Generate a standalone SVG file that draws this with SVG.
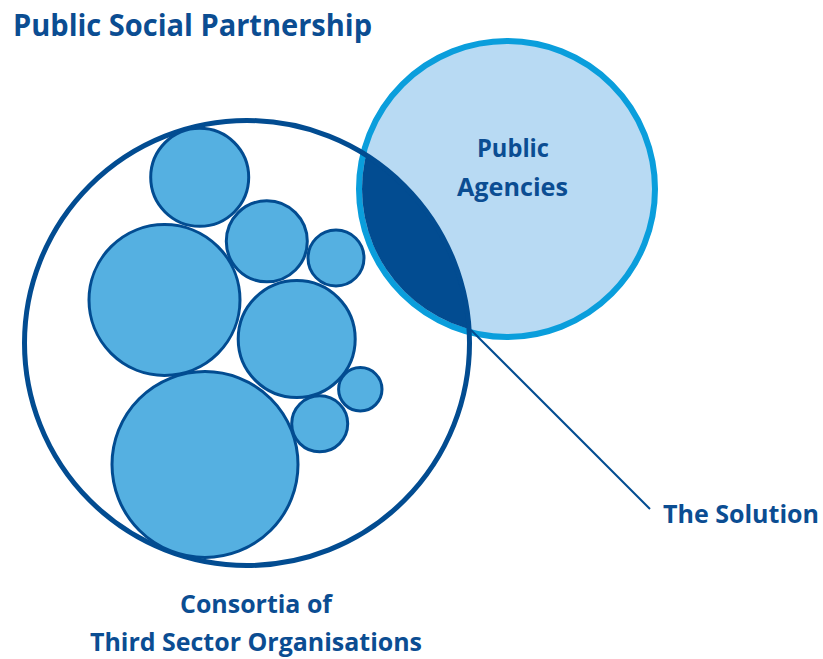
<svg xmlns="http://www.w3.org/2000/svg" width="823" height="659" viewBox="0 0 823 659">
  <style>
    .lbl { font-family: "Open Sans", "Liberation Sans", sans-serif; font-weight: 700; fill: #0b4d92; }
    .member { fill: #55b0e1; stroke: #024c91; stroke-width: 3; }
    .conn { fill: none; stroke: #024c91; stroke-width: 2; }
  </style>
  <defs>
    <clipPath id="agencyInner">
      <circle cx="507" cy="189" r="145"/>
    </clipPath>
  </defs>

  <text class="lbl" x="13" y="36" font-size="29.5" textLength="359" lengthAdjust="spacingAndGlyphs">Public Social Partnership</text>

  <!-- Public agencies circle -->
  <g id="public-agencies">
    <circle cx="507" cy="189" r="148" fill="#b8daf3" stroke="#0a9edc" stroke-width="6"/>
    <text class="lbl" x="477" y="157" font-size="25" textLength="72" lengthAdjust="spacingAndGlyphs">Public</text>
    <text class="lbl" x="457" y="196" font-size="25" textLength="111" lengthAdjust="spacingAndGlyphs">Agencies</text>
  </g>

  <!-- Overlap: the solution -->
  <g id="solution-overlap">
    <circle cx="247" cy="343" r="222" fill="#024c91" clip-path="url(#agencyInner)"/>
  </g>

  <!-- Consortia circle with member organisations -->
  <g id="consortia">
    <circle cx="247" cy="343" r="222.5" fill="none" stroke="#024c91" stroke-width="5"/>
    <circle class="member" cx="199.7" cy="177.3" r="49"/>
    <circle class="member" cx="266.8" cy="241.3" r="40.5"/>
    <circle class="member" cx="336" cy="258" r="28"/>
    <circle class="member" cx="164.5" cy="300" r="75.5"/>
    <circle class="member" cx="296.7" cy="339" r="58.5"/>
    <circle class="member" cx="360.3" cy="389.3" r="21.7"/>
    <circle class="member" cx="319.7" cy="423.8" r="28"/>
    <circle class="member" cx="205" cy="464.5" r="93"/>
    <text class="lbl" x="180" y="613" font-size="24.5" textLength="152" lengthAdjust="spacingAndGlyphs">Consortia of</text>
    <text class="lbl" x="90" y="651" font-size="25" textLength="332" lengthAdjust="spacingAndGlyphs">Third Sector Organisations</text>
  </g>

  <g id="connectors">
    <line class="conn" x1="471" y1="330" x2="650" y2="509"/>
  </g>

  <g id="the-solution">
    <text class="lbl" x="663" y="523" font-size="24.5" textLength="156" lengthAdjust="spacingAndGlyphs">The Solution</text>
  </g>
</svg>
